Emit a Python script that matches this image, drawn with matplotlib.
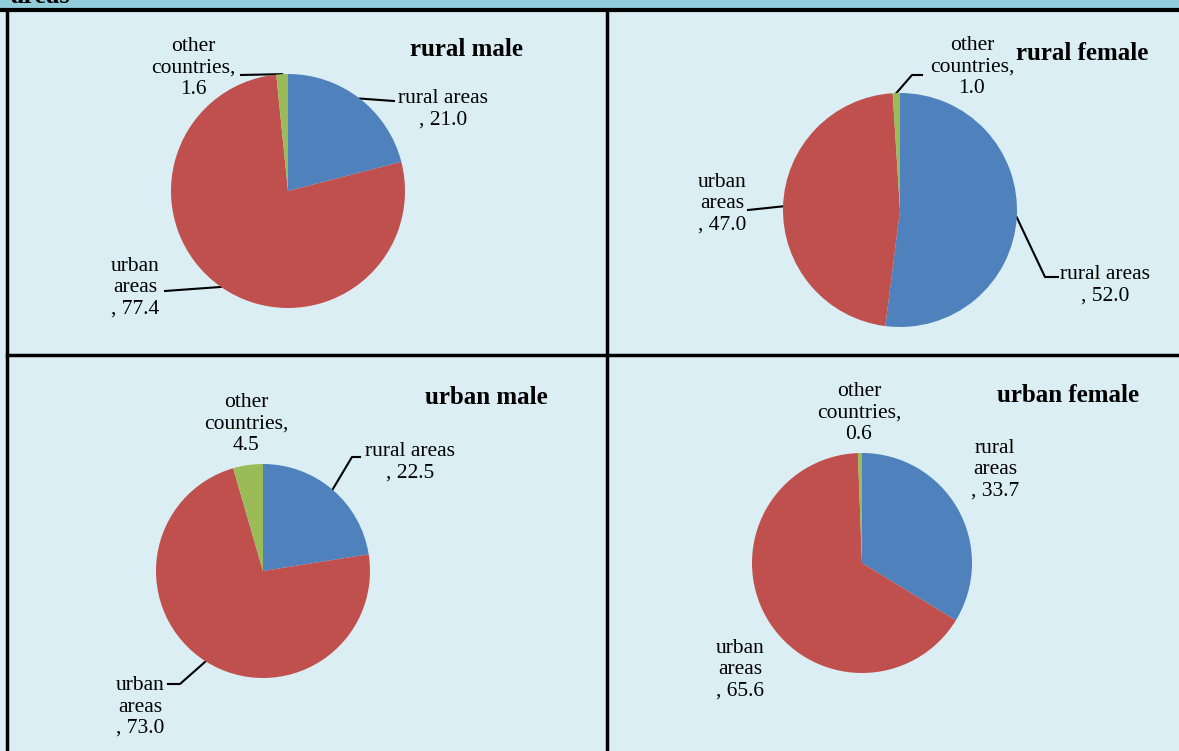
import numpy as np
import matplotlib.pyplot as plt

W, H = 1179, 751

# data ---------------------------------------------------------------------
categories = ["rural areas", "urban areas", "other countries"]
panels = ["rural male", "rural female", "urban male", "urban female"]
rural_male = [21.0, 77.4, 1.6]
rural_female = [52.0, 47.0, 1.0]
urban_male = [22.5, 73.0, 4.5]
urban_female = [33.7, 65.6, 0.6]
values = [rural_male, rural_female, urban_male, urban_female]

colors = ["#4F81BD", "#C0504D", "#9BBB59"]
bg = "#DAEEF3"
band = "#92CDDC"

plt.rcParams['font.family'] = ['Liberation Serif', 'DejaVu Serif']

fig = plt.figure(figsize=(W / 100, H / 100), dpi=100, facecolor=bg)
base = fig.add_axes([0, 0, 1, 1])
base.set_xlim(0, W)
base.set_ylim(H, 0)
base.axis("off")
base.set_facecolor(bg)

# frame / table grid
base.add_patch(plt.Rectangle((0, 0), W, 10, color=band, zorder=0))
base.plot([0, W], [10, 10], color="black", lw=3)
base.plot([6.5, 6.5], [10, H], color="black", lw=2.5)
base.plot([607, 607], [10, H], color="black", lw=2.5)
base.plot([6.5, W], [355, 355], color="black", lw=2.5)
base.text(10, 3, "areas", fontsize=19, fontweight="bold", va="baseline")

# pie centre and radius in pixels, title position
layout = [
    dict(c=(288, 191), r=117, title=(466, 49)),
    dict(c=(900, 210), r=117, title=(1082, 53)),
    dict(c=(263, 571), r=107, title=(486, 397)),
    dict(c=(862, 563), r=110, title=(1068, 396)),
]

# label text positions (centre of block) and leader points
labels = [
    [dict(t="rural areas\n, 21.0", p=(443, 109), via=[(394, 101)]),
     dict(t="urban\nareas\n, 77.4", p=(135, 288), via=[(165, 291)]),
     dict(t="other\ncountries,\n1.6", p=(193, 68), via=[(241, 75)])],
    [dict(t="rural areas\n, 52.0", p=(1105, 285), via=[(1045, 277), (1058, 277)]),
     dict(t="urban\nareas\n, 47.0", p=(722, 204), via=[(748, 210)]),
     dict(t="other\ncountries,\n1.0", p=(972, 67), via=[(912, 75), (922, 75)])],
    [dict(t="rural areas\n, 22.5", p=(410, 462), via=[(352, 457), (360, 457)]),
     dict(t="urban\nareas\n, 73.0", p=(140, 707), via=[(180, 684), (168, 684)]),
     dict(t="other\ncountries,\n4.5", p=(246, 424), via=None)],
    [dict(t="rural\nareas\n, 33.7", p=(995, 470), via=None),
     dict(t="urban\nareas\n, 65.6", p=(740, 670), via=None),
     dict(t="other\ncountries,\n0.6", p=(859, 413), via=None)],
]

for name, vals, lay, labs in zip(panels, values, layout, labels):
    cx, cy = lay["c"]
    r = lay["r"]
    ax = fig.add_axes([(cx - r) / W, 1 - (cy + r) / H, 2 * r / W, 2 * r / H])
    wedges, _ = ax.pie(vals, colors=colors, startangle=90, counterclock=False,
                       radius=1, wedgeprops=dict(linewidth=0))
    ax.set_xlim(-1, 1)
    ax.set_ylim(-1, 1)
    ax.patch.set_alpha(0)

    base.text(lay["title"][0], lay["title"][1], name, fontsize=18,
              fontweight="bold", ha="center", va="center")

    for w, lab in zip(wedges, labs):
        base.text(lab["p"][0], lab["p"][1], lab["t"], fontsize=15.5,
                  ha="center", va="center", linespacing=1.15)
        if lab["via"] is None:
            continue
        mid = np.deg2rad((w.theta1 + w.theta2) / 2)
        ex, ey = cx + r * np.cos(mid), cy - r * np.sin(mid)
        xs = [ex] + [p[0] for p in lab["via"]]
        ys = [ey] + [p[1] for p in lab["via"]]
        base.plot(xs, ys, color="black", lw=1.5)

fig.savefig("out.png", dpi=100, facecolor=bg)
